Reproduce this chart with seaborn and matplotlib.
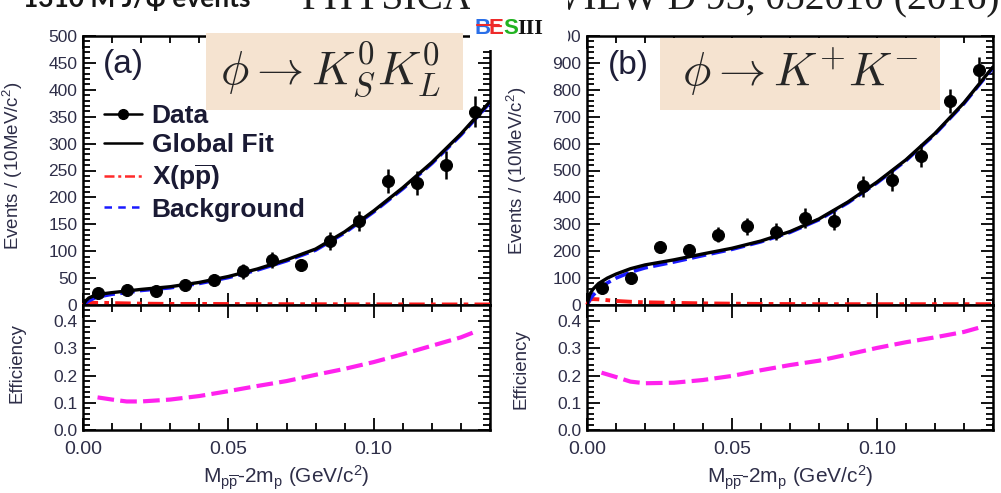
import matplotlib
matplotlib.use("Agg")
import matplotlib.pyplot as plt
import seaborn as sns
import pandas as pd
from matplotlib.lines import Line2D
from matplotlib.patches import Rectangle
from matplotlib.ticker import MultipleLocator, FormatStrFormatter

# ---------------- data ----------------
# bin centres of the M(p pbar) - 2 m_p spectrum, 10 MeV/c^2 bins
bin_centers = [0.005, 0.015, 0.025, 0.035, 0.045, 0.055, 0.065,
               0.075, 0.085, 0.095, 0.105, 0.115, 0.125, 0.135]

# (a) phi -> K_S K_L
kskl_counts = [22, 28, 26, 37, 47, 63, 83, 75, 119, 156, 230, 227, 260, 359]
kskl_errors = [6, 11, 8, 11, 11, 14, 15, 11, 17, 18, 22, 23, 26, 29]

# (b) phi -> K+ K-
kk_counts = [65, 102, 215, 205, 261, 292, 273, 323, 314, 441, 465, 555, 757, 875]
kk_errors = [12, 15, 18, 22, 28, 30, 31, 38, 36, 38, 40, 42, 45, 46]

# fit curves sampled along the mass axis
curve_x = [0.0, 0.001, 0.002, 0.004, 0.007, 0.01, 0.015, 0.02, 0.03, 0.04,
           0.05, 0.06, 0.07, 0.08, 0.09, 0.10, 0.11, 0.12, 0.13, 0.14]
kskl_fit = [0, 8, 13, 18, 21, 23, 26, 29, 34, 42,
            53, 67, 84, 104, 136, 175, 218, 265, 318, 378]
kskl_bkg = [0, 4, 8, 13, 17, 20, 23, 27, 32, 40,
            51, 65, 82, 102, 134, 173, 216, 263, 316, 376]
kskl_sig = [0, 3, 4, 4, 4, 3.5, 3, 2.5, 2, 2,
            1.8, 1.6, 1.5, 1.4, 1.3, 1.2, 1.1, 1.0, 1.0, 1.0]

kk_fit = [0, 40, 58, 80, 100, 115, 135, 149, 168, 190,
          211, 238, 273, 320, 383, 457, 540, 638, 752, 885]
kk_bkg = [0, 20, 35, 58, 82, 100, 122, 138, 160, 184,
          207, 235, 270, 317, 380, 454, 537, 635, 749, 882]
kk_sig = [0, 20, 22, 21, 18, 15, 12, 10, 8, 6,
          5, 4, 3.5, 3, 3, 3, 3, 3, 3, 3]

# detection efficiency
eff_x = [0.005, 0.01, 0.015, 0.02, 0.03, 0.04, 0.05, 0.06,
         0.07, 0.08, 0.09, 0.10, 0.11, 0.12, 0.13, 0.135]
kskl_eff = [0.120, 0.112, 0.105, 0.105, 0.112, 0.125, 0.143, 0.162,
            0.180, 0.203, 0.225, 0.250, 0.279, 0.310, 0.341, 0.362]
kk_eff = [0.211, 0.195, 0.178, 0.172, 0.174, 0.184, 0.199, 0.220,
          0.239, 0.255, 0.278, 0.302, 0.323, 0.341, 0.361, 0.376]

legend_labels = ["Data", "Global Fit", r"X($\mathbf{p\overline{p}}$)", "Background"]

# ---------------- style ----------------
sns.set_theme(style="ticks")
plt.rcParams["font.family"] = ["Liberation Sans", "DejaVu Sans"]
plt.rcParams["mathtext.fontset"] = "custom"
plt.rcParams["mathtext.rm"] = "Liberation Sans"
plt.rcParams["mathtext.it"] = "Liberation Sans"
plt.rcParams["mathtext.bf"] = "Liberation Sans:bold"

TICK_COLOR = "#2e2e48"
W, H = 1001, 493
fig = plt.figure(figsize=(W / 100, H / 100), dpi=100)


def fx(px):
    return px / W


def fy(py):
    return 1 - py / H


def panel(x0, x1):
    top = fig.add_axes([fx(x0), fy(305), fx(x1 - x0), fy(36) - fy(305)])
    bot = fig.add_axes([fx(x0), fy(430), fx(x1 - x0), fy(305) - fy(430)])
    return top, bot


def style_axes(ax, ymaj, ymin, yfmt, show_x):
    ax.set_xlim(0, 0.14)
    ax.xaxis.set_major_locator(MultipleLocator(0.05))
    ax.xaxis.set_minor_locator(MultipleLocator(0.01))
    ax.yaxis.set_major_locator(MultipleLocator(ymaj))
    ax.yaxis.set_minor_locator(MultipleLocator(ymin))
    ax.yaxis.set_major_formatter(FormatStrFormatter(yfmt))
    ax.xaxis.set_major_formatter(FormatStrFormatter("%.2f"))
    ax.tick_params(which="both", direction="in", top=True, right=True,
                   colors="black", labelcolor=TICK_COLOR, width=1.3)
    ax.tick_params(which="major", length=9)
    ax.tick_params(which="minor", length=5)
    ax.tick_params(axis="y", labelsize=12.5, pad=4)
    ax.tick_params(axis="x", labelsize=14, pad=8, labelbottom=show_x)
    for s in ax.spines.values():
        s.set_linewidth(1.8)
        s.set_color("black")
    ax.set_xlabel("")
    ax.set_ylabel("")


def draw_spectrum(ax, counts, errors, fit, bkg, sig):
    sns.lineplot(x=curve_x, y=sig, ax=ax, color="#ff1a1a", lw=2.8,
                 linestyle=(0, (4, 1.6, 1.2, 1.6)), zorder=3, clip_on=False)
    sns.lineplot(x=curve_x, y=bkg, ax=ax, color="#1a1aff", lw=2.6,
                 linestyle=(0, (4, 1.5)), zorder=4)
    sns.lineplot(x=curve_x, y=fit, ax=ax, color="black", lw=2.4, zorder=5)
    ax.errorbar(bin_centers, counts, yerr=errors, fmt="none", ecolor="black",
                elinewidth=1.8, capsize=0, zorder=6)
    sns.scatterplot(x=bin_centers, y=counts, ax=ax, color="black",
                    edgecolor="black", s=75, zorder=7)


def draw_eff(ax, eff):
    sns.lineplot(x=eff_x, y=eff, ax=ax, color="#ff22ee", lw=3.0,
                 linestyle=(0, (4.0, 1.5)), zorder=3)


# ---------------- panels ----------------
axa, axa_eff = panel(83, 490)
axb, axb_eff = panel(587, 993)

draw_spectrum(axa, kskl_counts, kskl_errors, kskl_fit, kskl_bkg, kskl_sig)
draw_spectrum(axb, kk_counts, kk_errors, kk_fit, kk_bkg, kk_sig)
draw_eff(axa_eff, kskl_eff)
draw_eff(axb_eff, kk_eff)

style_axes(axa, 50, 10, "%d", False)
style_axes(axb, 100, 20, "%d", False)
axa.set_ylim(0, 500)
axb.set_ylim(0, 1000)
for ax in (axa_eff, axb_eff):
    style_axes(ax, 0.1, 0.02, "%.1f", True)
    ax.set_ylim(0, 0.46)

ylab = r"Events / (10MeV/c$^2$)"
xlab = r"M$_{\mathrm{p\overline{p}}}$-2m$_{\mathrm{p}}$ (GeV/c$^2$)"
for ax, yc in ((axa, 0.517), (axb, 0.50)):
    ax.set_ylabel(ylab, fontsize=13.5, color=TICK_COLOR)
    ax.yaxis.set_label_coords(-0.142, yc)
for ax, yc in ((axa_eff, 0.536), (axb_eff, 0.49)):
    ax.set_ylabel("Efficiency", fontsize=13.5, color=TICK_COLOR)
    ax.yaxis.set_label_coords(-0.142, yc)
    ax.set_xlabel(xlab, fontsize=15, color=TICK_COLOR)
    ax.xaxis.set_label_coords(0.5, -0.39)
    ax.xaxis.label.set_va("center")

# panel tags
fig.text(fx(103), fy(64), "(a)", fontsize=24, color="#1e1e38", va="center", ha="left")
fig.text(fx(608), fy(65), "(b)", fontsize=24, color="#1e1e38", va="center", ha="left")

# legend in panel (a)
handles = [
    Line2D([], [], color="black", lw=1.8, marker="o", markersize=7),
    Line2D([], [], color="black", lw=1.8),
    Line2D([], [], color="#ff2a2a", lw=1.8, linestyle=(0, (4, 1.5, 1.2, 1.5))),
    Line2D([], [], color="#1a1aff", lw=1.8, linestyle=(0, (3, 2.5))),
]
fig.legend(handles, legend_labels, loc="upper left",
           bbox_to_anchor=(fx(104), fy(104)), frameon=False,
           prop={"weight": "bold", "size": 19}, labelcolor="#1a1a34",
           handlelength=1.45, handletextpad=0.35, labelspacing=0.2,
           borderpad=0, borderaxespad=0)

# decay-channel labels
BOX = "#f5e3d0"
fig.add_artist(Rectangle((fx(206), fy(110)), fx(463 - 206), fy(33) - fy(110),
                         transform=fig.transFigure, facecolor=BOX,
                         edgecolor="none", zorder=8))
fig.add_artist(Rectangle((fx(660), fy(110)), fx(940 - 660), fy(38) - fy(110),
                         transform=fig.transFigure, facecolor=BOX,
                         edgecolor="none", zorder=8))
mt = dict(fontsize=34, color="#262626", va="center", ha="center",
          math_fontfamily="cm", zorder=9)
fig.text(fx(330), fy(70), r"$\phi \rightarrow K^0_S K^0_L$", **mt)
fig.text(fx(800), fy(72), r"$\phi \rightarrow K^{+}K^{-}$", **mt)

# slide header (partly off the top edge)
fig.text(fx(23), fy(7), "1310 M J/ψ events", fontsize=19, fontweight="bold",
         family=["Lato", "DejaVu Sans"], color="#161616", va="baseline", ha="left")
fig.text(fx(302), fy(9), "PHYSICAL REVIEW D 93, 052010 (2016)", fontsize=28.5,
         family=["Liberation Serif"], color="#1d1d1d", va="baseline", ha="left")

# experiment logo
fig.add_artist(Rectangle((fx(470), fy(50)), fx(568 - 470), fy(0) - fy(50),
                         transform=fig.transFigure, facecolor="white",
                         edgecolor="none", zorder=10))
logo = dict(fontsize=16, fontweight="bold", va="baseline", ha="left", zorder=11)
fig.text(fx(475), fy(34), "B", color="#2a6fe8", **logo)
fig.text(fx(489), fy(34), "E", color="#ee2a2a", **logo)
fig.text(fx(503), fy(34), "S", color="#22b322", **logo)
fig.text(fx(517), fy(34), "III", color="#111111", family=["Liberation Serif"], **logo)
fig.add_artist(Line2D([fx(477), fx(499)], [fy(25), fy(25)], color="#ee2a2a",
                      lw=1.5, transform=fig.transFigure, zorder=12))

fig.savefig("out.png", dpi=100)
